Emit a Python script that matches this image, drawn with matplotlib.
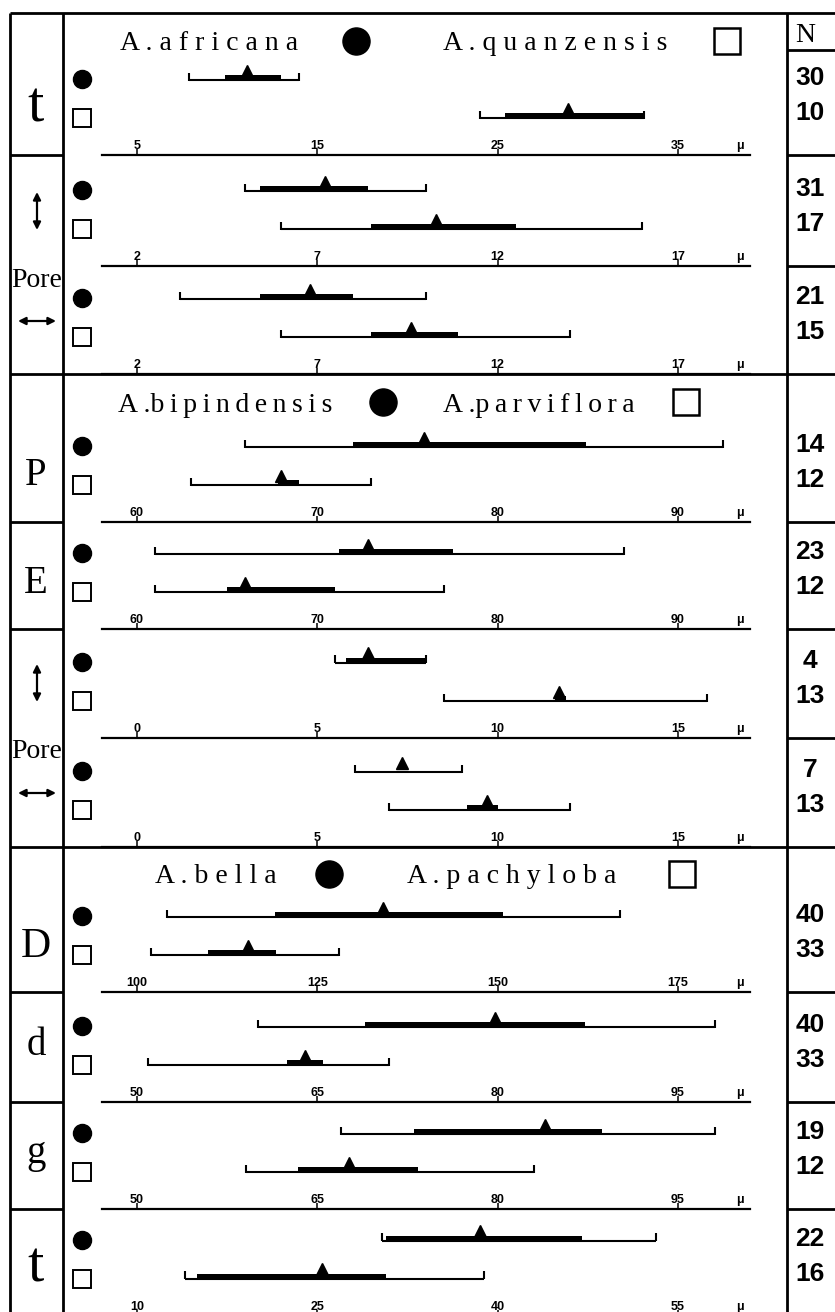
import matplotlib.pyplot as plt

# axis ticks of each of the 11 strips (top to bottom)
ticks = [
    [5, 15, 25, 35],
    [2, 7, 12, 17],
    [2, 7, 12, 17],
    [60, 70, 80, 90],
    [60, 70, 80, 90],
    [0, 5, 10, 15],
    [0, 5, 10, 15],
    [100, 125, 150, 175],
    [50, 65, 80, 95],
    [50, 65, 80, 95],
    [10, 25, 40, 55],
]
row_labels = ['t', '', '', 'P', 'E', '', '', 'D', 'd', 'g', 't']

# first species of each group (filled circle): range, sd band, mean
dot_min = [7.9, 5.0, 3.2, 66.0, 61.0, 5.5, 6.05, 104.2, 60.1, 67.0, 30.4]
dot_lo = [9.9, 5.4, 5.4, 72.0, 71.2, 5.8, 7.35, 119.1, 69.0, 73.0, 30.7]
dot_mean = [11.1, 7.2, 6.8, 75.9, 72.8, 6.4, 7.35, 134.1, 79.8, 83.9, 38.5]
dot_hi = [13.0, 8.4, 8.0, 84.9, 77.5, 8.0, 7.35, 150.8, 87.3, 88.7, 47.0]
dot_max = [14.0, 10.0, 10.0, 92.5, 87.0, 8.0, 9.0, 167.0, 98.1, 98.1, 53.2]

# second species (open square)
sq_min = [24.0, 6.0, 6.0, 63.0, 61.0, 8.5, 7.0, 101.9, 50.9, 59.1, 14.0]
sq_lo = [25.4, 8.5, 8.5, 67.8, 65.0, 11.6, 9.15, 109.8, 62.5, 63.4, 15.0]
sq_mean = [28.9, 10.3, 9.6, 68.0, 66.0, 11.7, 9.7, 115.4, 64.0, 67.6, 25.4]
sq_hi = [33.1, 12.5, 10.9, 69.0, 71.0, 11.9, 10.0, 119.3, 65.5, 73.4, 30.7]
sq_max = [33.1, 16.0, 14.0, 73.0, 77.0, 15.8, 12.0, 128.0, 71.0, 83.0, 38.9]

n_dot = [30, 31, 21, 14, 23, 4, 7, 40, 40, 19, 22]
n_sq = [10, 17, 15, 12, 12, 13, 13, 33, 33, 12, 16]

species = [
    ('A . a f r i c a n a', 'A . q u a n z e n s i s'),
    ('A .b\u2009i\u2009p\u2009i\u2009n\u2009d\u2009e\u2009n\u2009s\u2009i\u2009s',
     'A .p\u2009a\u2009r\u2009v\u2009i\u2009f\u2009l\u2009o\u2009r\u2009a'),
    ('A . b e l l a', 'A . p a c h y l o b a'),
]

# ---- layout (pixels) ----
W, H = 835, 1312
panel_top = [13, 155, 266, 374, 522, 629, 738, 847, 992, 1102, 1209]
panel_base = [155, 266, 374, 522, 629, 738, 847, 992, 1102, 1209, 1316]
x_out, x_mid, x_n = 10, 63, 787
axis_x0, axis_x1 = 102, 750
tick_px0, tick_px3 = 137, 678

serif = ['Liberation Serif', 'DejaVu Serif']
sans = ['Liberation Sans', 'DejaVu Sans']

fig = plt.figure(figsize=(W / 100, H / 100), dpi=100)
frame = fig.add_axes([0, 0, 1, 1])
frame.set_xlim(0, W)
frame.set_ylim(H, 0)
frame.axis('off')

lw_frame = 2.0
frame.vlines([x_out, x_mid, x_n], 13, H, color='black', lw=lw_frame)
frame.hlines([13, 374, 847], x_out, W, color='black', lw=lw_frame)
frame.hlines([155, 522, 629, 992, 1102, 1209], x_out, x_mid, color='black', lw=lw_frame)
frame.hlines([50, 155, 266, 522, 629, 738, 992, 1102, 1209], x_n, W, color='black', lw=lw_frame)
frame.text(805, 42, 'N', ha='center', va='baseline', fontsize=20, family=serif)

# left column labels
label_base = [122, 0, 0, 485, 593, 0, 0, 957, 1055, 1163, 1282]
label_size = [42, 0, 0, 28, 28, 0, 0, 30, 28, 28, 42]
for i, lab in enumerate(row_labels):
    if lab:
        frame.text(36, label_base[i], lab, ha='center', va='baseline',
                   fontsize=label_size[i], family=serif)

for pore_y, up_y, side_y in [(287, 211, 321), (758, 683, 793)]:
    frame.text(37, pore_y, 'Pore', ha='center', va='baseline', fontsize=20, family=serif)
    arrow = dict(arrowstyle='<|-|>', color='black', lw=1.6, mutation_scale=11,
                 shrinkA=0, shrinkB=0)
    frame.annotate('', xy=(37, up_y - 19), xytext=(37, up_y + 19), arrowprops=arrow)
    frame.annotate('', xy=(18, side_y), xytext=(56, side_y), arrowprops=arrow)

# species headers
header_pos = [(120, 443, 50, 356, 727, 41), (118, 443, 412, 383, 686, 402),
              (155, 407, 883, 329, 682, 874)]
for (s1, s2), (x1, x2, yb, xc, xs, ym) in zip(species, header_pos):
    frame.text(x1, yb, s1, ha='left', va='baseline', fontsize=20, family=serif)
    frame.text(x2, yb, s2, ha='left', va='baseline', fontsize=20, family=serif)
    frame.plot(xc, ym, 'o', ms=19.5, color='black')
    frame.plot(xs, ym, 's', ms=19, mfc='white', mec='black', mew=1.8)

for i in range(len(ticks)):
    top, base = panel_top[i], panel_base[i]
    h = base - top

    # row symbols and sample sizes
    frame.plot(82, base - 76, 'o', ms=13, color='black')
    frame.plot(82, base - 37, 's', ms=12.5, mfc='white', mec='black', mew=1.4)
    frame.text(810, base - 70, str(n_dot[i]), ha='center', va='baseline',
               fontsize=19, weight='bold', family=sans)
    frame.text(810, base - 35, str(n_sq[i]), ha='center', va='baseline',
               fontsize=19, weight='bold', family=sans)
    frame.text(740, base - 6, 'μ', ha='center', va='baseline', fontsize=9,
               weight='bold', family=sans)

    ax = fig.add_axes([x_mid / W, 1 - base / H, (x_n - x_mid) / W, h / H])
    ax.patch.set_alpha(0)
    t0 = ticks[i][0]
    ppu = (tick_px3 - tick_px0) / (3 * (ticks[i][1] - t0))

    def px2v(px):
        return t0 + (px - tick_px0) / ppu

    ax.set_xlim(px2v(x_mid), px2v(x_n))
    ax.set_ylim(0, h)
    for s in ['top', 'left', 'right']:
        ax.spines[s].set_visible(False)
    ax.spines['bottom'].set_bounds(px2v(axis_x0), px2v(axis_x1))
    ax.spines['bottom'].set_linewidth(1.6)
    ax.set_yticks([])
    ax.set_xticks(ticks[i])
    ax.tick_params(axis='x', direction='in', length=4, width=1.1, labelbottom=False)
    for t in ticks[i]:
        ax.text(t, 6, str(t), ha='center', va='baseline', fontsize=9,
                weight='bold', family=sans)

    rows = [(75, dot_min[i], dot_lo[i], dot_mean[i], dot_hi[i], dot_max[i]),
            (37, sq_min[i], sq_lo[i], sq_mean[i], sq_hi[i], sq_max[i])]
    for y, mn, lo, mean, hi, mx in rows:
        ax.hlines(y, mn, mx, color='black', lw=1.5)
        ax.vlines([mn, mx], y - 0.5, y + 7.5, color='black', lw=1.5)
        if hi > lo:
            ax.barh(y + 1.8, hi - lo, left=lo, height=6.5, color='black')
        ax.plot(mean, y + 9.5, marker='^', ms=8, color='black')

fig.savefig('out.png', dpi=100)
